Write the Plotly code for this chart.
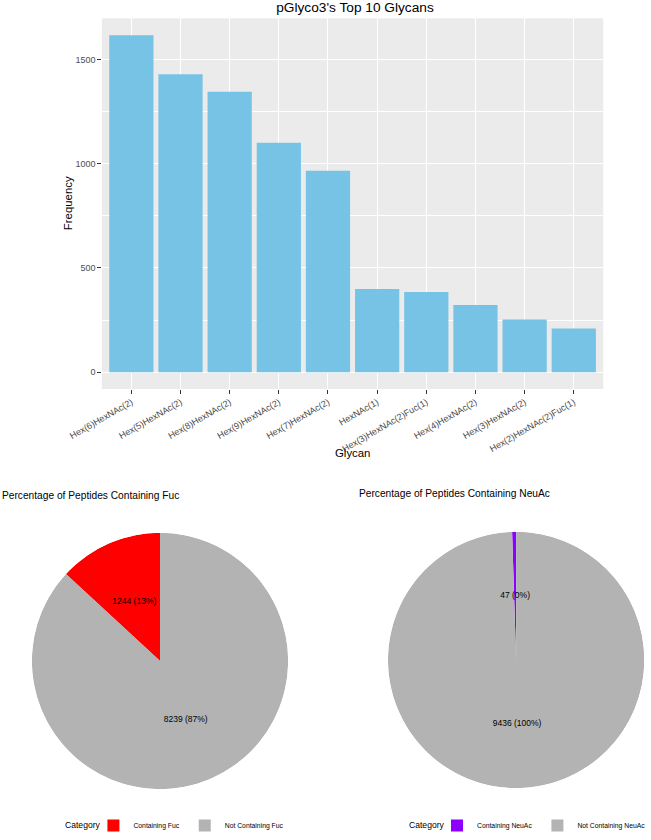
import plotly.graph_objects as go

# Top 10 glycans (bar chart)
glycans = [
    "Hex(6)HexNAc(2)", "Hex(5)HexNAc(2)", "Hex(8)HexNAc(2)", "Hex(9)HexNAc(2)",
    "Hex(7)HexNAc(2)", "HexNAc(1)", "Hex(3)HexNAc(2)Fuc(1)", "Hex(4)HexNAc(2)",
    "Hex(3)HexNAc(2)", "Hex(2)HexNAc(2)Fuc(1)",
]
frequency = [1617, 1429, 1345, 1101, 966, 399, 385, 322, 253, 210]

# Pie data
fuc_labels = ["Containing Fuc", "Not Containing Fuc"]
fuc_counts = [1244, 8239]
fuc_colors = ["#FF0000", "#B3B3B3"]

neuac_labels = ["Containing NeuAc", "Not Containing NeuAc"]
neuac_counts = [47, 9436]
neuac_colors = ["#8B00FF", "#B3B3B3"]

W, H = 651, 840
FONT = "Liberation Sans, Arial, Helvetica, sans-serif"


def px_x(p):
    return p / W


def px_y(p):
    return 1 - p / H


fig = go.Figure()

# Bar chart
fig.add_trace(go.Bar(
    x=glycans, y=frequency, width=0.9,
    marker=dict(color="#77C3E6", line=dict(width=0)),
    showlegend=False,
))

ymax = max(frequency)


def add_pie(labels, counts, colors, polar, legend):
    # ggplot stacks the first level on top, i.e. last clockwise from 12 o'clock
    total = sum(counts)
    starts = {}
    s = 0
    for lab, n in reversed(list(zip(labels, counts))):
        starts[lab] = s
        s += n
    for lab, n, col in zip(labels, counts, colors):
        mid = (starts[lab] + n / 2) / total * 360
        fig.add_trace(go.Barpolar(
            r=[1], theta=[mid], width=[n / total * 360], base=0,
            marker=dict(color=col, line=dict(width=0)),
            name=lab, subplot=polar, legend=legend,
        ))
    for lab, n in zip(labels, counts):
        mid = (starts[lab] + n / 2) / total * 360
        fig.add_trace(go.Scatterpolar(
            r=[0.5], theta=[mid], mode="text",
            text=[f"{n} ({round(100 * n / total)}%)"],
            textfont=dict(size=8.5, color="black", family=FONT),
            subplot=polar, showlegend=False, hoverinfo="skip",
        ))


add_pie(fuc_labels, fuc_counts, fuc_colors, "polar", "legend")
add_pie(neuac_labels, neuac_counts, neuac_colors, "polar2", "legend2")

polar_common = dict(
    bgcolor="rgba(0,0,0,0)",
    angularaxis=dict(visible=False, rotation=90, direction="clockwise"),
    radialaxis=dict(visible=False, range=[0, 1]),
    hole=0,
)

legend_common = dict(
    orientation="h", yanchor="bottom", y=0, xanchor="left",
    font=dict(size=6.8, color="black", family=FONT),
    itemwidth=30, bgcolor="rgba(0,0,0,0)", tracegroupgap=0,
)


def note(text, x, y, size, xanchor="center", angle=0):
    return dict(text=text, x=px_x(x), y=px_y(y), xanchor=xanchor, yanchor="middle",
                xref="paper", yref="paper", showarrow=False, textangle=angle,
                font=dict(size=size, color="black"))


fig.update_layout(
    width=W, height=H,
    template="none",
    font=dict(family=FONT, color="black"),
    paper_bgcolor="white",
    plot_bgcolor="#EBEBEB",
    margin=dict(l=0, r=0, t=0, b=0),
    title=dict(
        text="pGlyco3's Top 10 Glycans",
        x=px_x(355), xanchor="center", y=px_y(7.5), yanchor="middle",
        font=dict(size=13.7, color="black"),
    ),
    xaxis=dict(
        domain=[px_x(102.5), px_x(607)],
        range=[-0.6, len(glycans) - 0.4],
        tickangle=-30, ticks="outside", ticklen=3.5, tickwidth=1, tickcolor="#333333",
        tickfont=dict(size=9, color="#4D4D4D"),
        showgrid=True, gridcolor="white", gridwidth=1.1,
        zeroline=False, showline=False, automargin=False,
    ),
    yaxis=dict(
        domain=[px_y(389), px_y(18.3)],
        range=[-0.05 * ymax, 1.05 * ymax],
        dtick=500, ticks="outside", ticklen=3.5, tickwidth=1, tickcolor="#333333",
        tickfont=dict(size=9, color="#4D4D4D"),
        showgrid=True, gridcolor="white", gridwidth=1.1,
        minor=dict(dtick=250, showgrid=True, gridcolor="white", gridwidth=0.55),
        zeroline=False, showline=False, automargin=False,
    ),
    polar=dict(domain=dict(x=[px_x(32), px_x(290)], y=[px_y(790), px_y(532)]), **polar_common),
    polar2=dict(domain=dict(x=[px_x(390.3), px_x(648.3)], y=[px_y(789), px_y(531)]), **polar_common),
    legend=dict(x=px_x(94), **legend_common),
    legend2=dict(x=px_x(440), **legend_common),
    annotations=[
        note("Glycan", 354.75, 453, 11.4),
        note("Frequency", 68, 203.6, 11.4, angle=-90),
        note("Percentage of Peptides Containing Fuc", 0, 495, 10.2, xanchor="left"),
        note("Percentage of Peptides Containing NeuAc", 359, 493, 10.2, xanchor="left"),
        note("Category", 104, 825, 8.6, xanchor="right"),
        note("Category", 450, 825, 8.6, xanchor="right"),
    ],
)

# drop the default page margin so the figure sits at the window's corner
fig.write_html("out.html", config={"displayModeBar": False},
               post_script="document.body.style.margin = '0';")
